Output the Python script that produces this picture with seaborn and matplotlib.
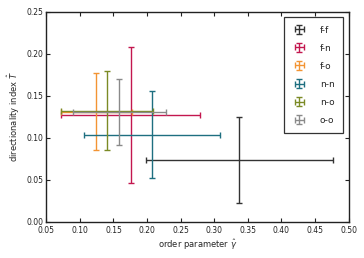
import numpy as np
import pandas as pd
import seaborn as sns
import matplotlib.pyplot as plt

# values
pairs = ['f-f', 'f-n', 'f-o', 'n-n', 'n-o', 'o-o']
gamma = [0.337, 0.1755, 0.1245, 0.207, 0.1405, 0.159]
gamma_err = [0.139, 0.1035, 0.053, 0.101, 0.069, 0.069]
T_index = [0.074, 0.1268, 0.131, 0.1038, 0.132, 0.1306]
T_err = [0.051, 0.081, 0.046, 0.052, 0.047, 0.039]
colors = ['#333333', '#c3174f', '#f39433', '#1e6f80', '#7b8a25', '#8a8a8a']

data = pd.DataFrame({'pair': pairs, 'gamma': gamma, 'gamma_err': gamma_err,
                     'T': T_index, 'T_err': T_err})

sns.set_theme(style='ticks')
plt.rcParams['font.family'] = ['DejaVu Sans']
plt.rcParams['mathtext.fontset'] = 'dejavusans'

fig, ax = plt.subplots(figsize=(3.64, 2.58), dpi=100)

for i, row in data.iterrows():
    ax.errorbar(row['gamma'], row['T'], xerr=row['gamma_err'], yerr=row['T_err'],
                fmt='none', ecolor=colors[i], elinewidth=1.0, capsize=2.5,
                capthick=1.0, label=row['pair'])

ax.set_xlim(0.05, 0.50)
ax.set_ylim(0.0, 0.25)
ax.set_xticks(np.arange(0.05, 0.501, 0.05))
ax.set_yticks(np.arange(0.0, 0.251, 0.05))
ax.set_xticklabels(['%.2f' % v for v in np.arange(0.05, 0.501, 0.05)])
ax.set_yticklabels(['%.2f' % v for v in np.arange(0.0, 0.251, 0.05)])
ax.tick_params(direction='in', top=True, right=True, labelsize=5.5,
               length=3, width=0.8, pad=2, colors='#222222')
ax.tick_params(axis='x', pad=3)
for s in ax.spines.values():
    s.set_linewidth(1.0)
    s.set_color('#222222')

ax.set_xlabel(r'order parameter $\hat{\gamma}$', fontsize=6, labelpad=2)
ax.set_ylabel(r'directionality index $\hat{T}$', fontsize=6, labelpad=3)

leg = ax.legend(loc='upper right', fontsize=6.5, frameon=True, fancybox=False,
                edgecolor='black', handlelength=1.6, labelspacing=1.0,
                borderpad=0.9, handletextpad=1.5, borderaxespad=0.65)
leg.get_frame().set_linewidth(0.9)

fig.subplots_adjust(left=0.127, right=0.958, top=0.955, bottom=0.14)
fig.savefig('out.png', dpi=100)
